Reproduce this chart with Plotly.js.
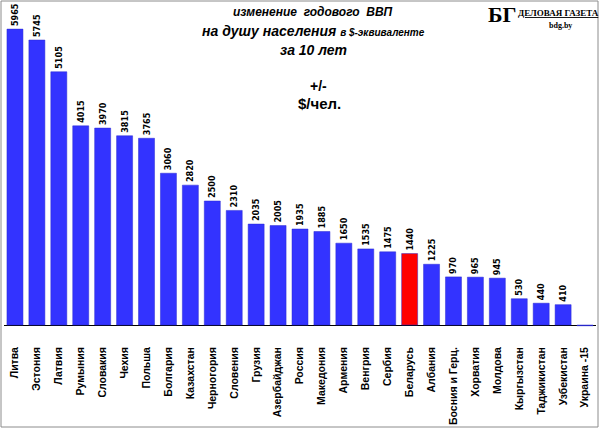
<!DOCTYPE html>
<html>
<head>
<meta charset="utf-8">
<script src="https://cdn.plot.ly/plotly-3.0.1.min.js"></script>
<style>
  body { margin: 0; background: #fff; }
  #graph { width: 600px; height: 429px; }
</style>
</head>
<body>
<div id="graph"></div>
<script>
// countries, sorted as in the picture
const countries = [
  'Литва', 'Эстония', 'Латвия', 'Румыния', 'Словакия', 'Чехия', 'Польша',
  'Болгария', 'Казахстан', 'Черногория', 'Словения', 'Грузия', 'Азербайджан',
  'Россия', 'Македония', 'Армения', 'Венгрия', 'Сербия', 'Беларусь',
  'Албания', 'Босния и Герц.', 'Хорватия', 'Молдова', 'Кыргызстан',
  'Таджикистан', 'Узбекистан', 'Украина'
];
// change of annual GDP per capita over 10 years, $/person
const gdpChange = [
  5965, 5745, 5105, 4015, 3970, 3815, 3765,
  3060, 2820, 2500, 2310, 2035, 2005,
  1935, 1885, 1650, 1535, 1475, 1440,
  1225, 970, 965, 945, 530,
  440, 410, -15
];
// Ukraine's value is written into its axis label instead of above the bar
const labelledInAxis = 'Украина';
const highlight = 'Беларусь';

const W = 600, H = 429;
const M = { l: 4, r: 4, t: 0, b: 101 };
const pw = W - M.l - M.r, ph = H - M.t - M.b;
const px = x => (x - M.l) / pw;
const py = y => (M.t + ph - y) / ph;

const tickText = countries.map((c, i) =>
  c === labelledInAxis ? c + ' ' + gdpChange[i] : c);
const barText = countries.map((c, i) =>
  c === labelledInAxis ? '' : String(gdpChange[i]));
const barColors = countries.map(c => c === highlight ? '#ff0000' : '#3333ff');

const trace = {
  type: 'bar',
  x: countries,
  y: gdpChange,
  text: barText,
  textposition: 'outside',
  textangle: -90,
  constraintext: 'none',
  cliponaxis: false,
  textfont: { family: 'Liberation Sans Narrow, DejaVu Sans Condensed, Liberation Sans', size: 9, weight: 'bold', color: '#000' },
  marker: { color: barColors, line: { color: '#2a2ad0', width: 0.5 } },
  hoverinfo: 'x+y'
};

const titleFont = { family: 'Liberation Sans, Arial, sans-serif', color: '#000' };
function note(text, x, y, size, extra) {
  return Object.assign({
    xref: 'paper', yref: 'paper', x: px(x), y: py(y),
    xanchor: 'center', yanchor: 'middle', showarrow: false,
    text: text, font: Object.assign({ size: size }, titleFont)
  }, extra || {});
}
const serif = size => ({ family: 'Liberation Serif, serif', size: size, color: '#000' });

const layout = {
  width: W, height: H,
  margin: { l: M.l, r: M.r, t: M.t, b: M.b, pad: 0 },
  paper_bgcolor: '#fff',
  plot_bgcolor: '#fff',
  bargap: 0.27,
  showlegend: false,
  xaxis: {
    type: 'category',
    tickvals: countries,
    ticktext: tickText,
    tickangle: -90,
    ticks: '',
    showline: false,
    showgrid: false,
    ticklabelstandoff: 16,
    tickfont: { family: 'Liberation Sans, Arial, sans-serif', size: 10.5, weight: 'bold', color: '#000' }
  },
  yaxis: {
    range: [-60, 6552],
    showticklabels: false,
    showgrid: false,
    zeroline: true,
    zerolinecolor: '#000',
    zerolinewidth: 1,
    showline: false
  },
  annotations: [
    note('<b><i>изменение  годового  ВВП</i></b>', 313, 12, 12),
    note('<b><i>на душу населения <span style="font-size:10px">в $-эквиваленте</span></i></b>', 313, 31, 14),
    note('<b><i>за 10 лет</i></b>', 313, 50, 14),
    note('<b>+/-</b>', 318, 86, 14),
    note('<b>$/чел.</b>', 319, 104, 15),
    note('<b>БГ</b>', 519, 14, 22, { xanchor: 'right', font: serif(22) }),
    note('<b><u>ДЕЛОВАЯ ГАЗЕТА</u></b>', 558, 13, 9, { font: serif(9) }),
    note('<b>bdg.by</b>', 560, 26, 8, { font: serif(8) })
  ],
  shapes: [{
    type: 'rect', xref: 'paper', yref: 'paper',
    x0: px(1), x1: px(598), y0: py(427), y1: py(1),
    line: { color: '#8c8c8c', width: 1 }
  }]
};

Plotly.newPlot('graph', [trace], layout, { displayModeBar: false, staticPlot: true });
</script>
</body>
</html>
